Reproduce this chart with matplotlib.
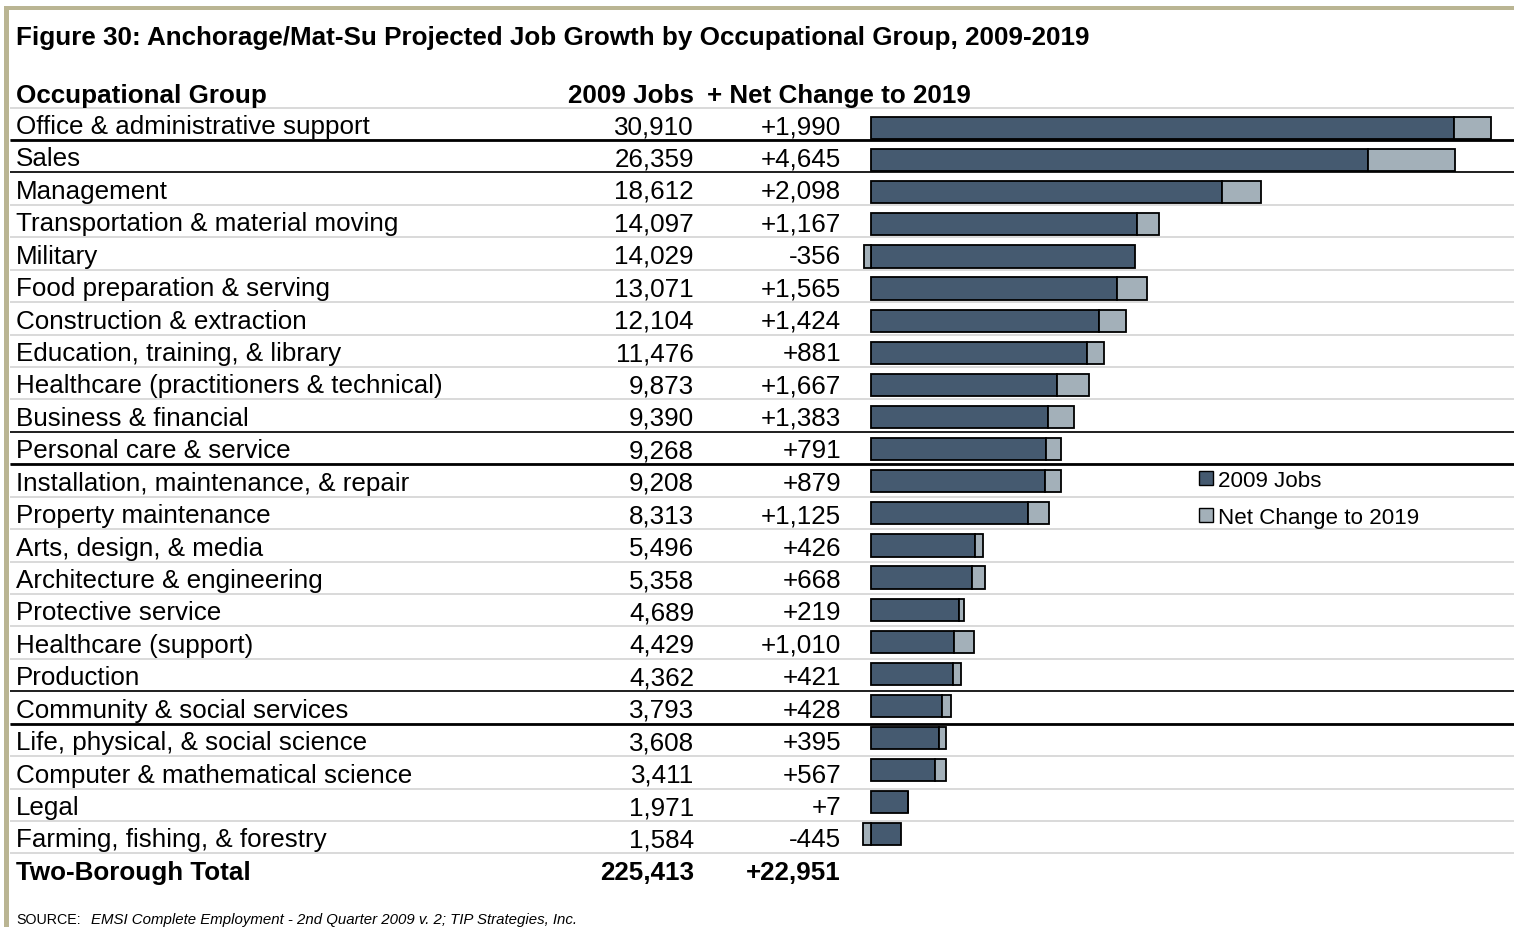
import numpy as np
import matplotlib.pyplot as plt
from matplotlib.patches import Rectangle

plt.rcParams['font.family'] = ['Liberation Sans', 'DejaVu Sans']

# Occupational groups, 2009 jobs and projected net change to 2019
groups = [
    'Office & administrative support', 'Sales', 'Management',
    'Transportation & material moving', 'Military', 'Food preparation & serving',
    'Construction & extraction', 'Education, training, & library',
    'Healthcare (practitioners & technical)', 'Business & financial',
    'Personal care & service', 'Installation, maintenance, & repair',
    'Property maintenance', 'Arts, design, & media', 'Architecture & engineering',
    'Protective service', 'Healthcare (support)', 'Production',
    'Community & social services', 'Life, physical, & social science',
    'Computer & mathematical science', 'Legal', 'Farming, fishing, & forestry',
]
jobs_2009 = [30910, 26359, 18612, 14097, 14029, 13071, 12104, 11476, 9873, 9390,
             9268, 9208, 8313, 5496, 5358, 4689, 4429, 4362, 3793, 3608, 3411,
             1971, 1584]
net_change = [1990, 4645, 2098, 1167, -356, 1565, 1424, 881, 1667, 1383,
              791, 879, 1125, 426, 668, 219, 1010, 421, 428, 395, 567, 7, -445]
total_label = 'Two-Borough Total'
total_jobs = 225413
total_change = 22951

DARK = '#455a70'
LIGHT = '#a3b0b9'
FRAME = '#bab593'
RULE = '#d9d9d9'
FS = 18.7

W, H = 1514, 928
fig = plt.figure(figsize=(W / 100, H / 100), dpi=100)

# full-figure axes in pixel units for the table text and rules
tab = fig.add_axes([0, 0, 1, 1])
tab.set_xlim(0, W)
tab.set_ylim(H, 0)
tab.axis('off')

row_top = 108.5
row_h = 32.43
base_off = 9.3
n = len(groups)


def row_y(i):
    return row_top + row_h * (i + 0.5)


# frame along the top and left edges
tab.add_patch(Rectangle((4, 7), W - 4, 4, color=FRAME, lw=0))
tab.add_patch(Rectangle((4, 7), 5, H - 7, color=FRAME, lw=0))

tab.text(16, 36 + base_off, 'Figure 30: Anchorage/Mat-Su Projected Job Growth by Occupational Group, 2009-2019',
         fontsize=FS, fontweight='bold', va='baseline', ha='left')

hdr = dict(fontsize=FS, fontweight='bold', va='baseline')
tab.text(16, 94 + base_off, 'Occupational Group', ha='left', **hdr)
tab.text(694, 94 + base_off, '2009 Jobs', ha='right', **hdr)
tab.text(707, 94 + base_off, '+ Net Change to 2019', ha='left', **hdr)

# light separators between every row
for k in range(n + 1):
    yy = row_top + row_h * k
    tab.plot([10, W], [yy, yy], color=RULE, lw=1.4, solid_capstyle='butt')

# dark rules around highlighted groups
for k, w in [(1, 2.0), (2, 1.2), (10, 1.2), (11, 2.0), (18, 1.2), (19, 2.0)]:
    yy = row_top + row_h * k
    tab.plot([10, W], [yy, yy], color='black', lw=w, solid_capstyle='butt')

body = dict(fontsize=FS, va='baseline')
for i, (g, j, c) in enumerate(zip(groups, jobs_2009, net_change)):
    y = row_y(i) + base_off
    tab.text(16, y, g, ha='left', **body)
    tab.text(694, y, f'{j:,}', ha='right', **body)
    tab.text(841, y, f'{c:+,}', ha='right', **body)

y = row_y(n) + base_off
tab.text(16, y, total_label, ha='left', fontweight='bold', **body)
tab.text(694, y, f'{total_jobs:,}', ha='right', fontweight='bold', **body)
tab.text(841, y, f'{total_change:+,}', ha='right', fontweight='bold', **body)

# bar panel: stacked 2009 jobs + net change, losses drawn left of zero
px_per_job = 0.01885
zero_px = 871
ax_left, ax_right = 850, W
bar_top, bar_pitch = 129, 32.11
ax_top = bar_top - bar_pitch / 2
ax_bot = bar_top + bar_pitch * (n - 0.5)
ax = fig.add_axes([ax_left / W, 1 - ax_bot / H, (ax_right - ax_left) / W, (ax_bot - ax_top) / H])
ax.patch.set_alpha(0)
xmin = -(zero_px - ax_left) / px_per_job
ax.set_xlim(xmin, xmin + (ax_right - ax_left) / px_per_job)
ax.set_ylim(n - 0.5, -0.5)
ax.axis('off')

rows = np.arange(n)
jobs = np.array(jobs_2009)
chg = np.array(net_change)
ax.barh(rows, jobs, height=0.69, color=DARK, edgecolor='black', lw=1.3)
ax.barh(rows, chg, left=np.where(chg > 0, jobs, 0), height=0.69,
        color=LIGHT, edgecolor='black', lw=1.3)

# legend
for yy, col, lab in [(479, DARK, '2009 Jobs'), (516, LIGHT, 'Net Change to 2019')]:
    tab.add_patch(Rectangle((1199, yy - 7), 14, 14, facecolor=col, edgecolor='black', lw=1.0))
    tab.text(1218, yy + 8, lab, fontsize=16.1, va='baseline', ha='left')

tab.text(16, 924, 'SOURCE:', fontsize=10.3, va='baseline', ha='left')
tab.text(91, 924, 'EMSI Complete Employment - 2nd Quarter 2009 v. 2; TIP Strategies, Inc.',
         fontsize=10.8, style='italic', va='baseline', ha='left')

fig.savefig('out.png', dpi=100)
